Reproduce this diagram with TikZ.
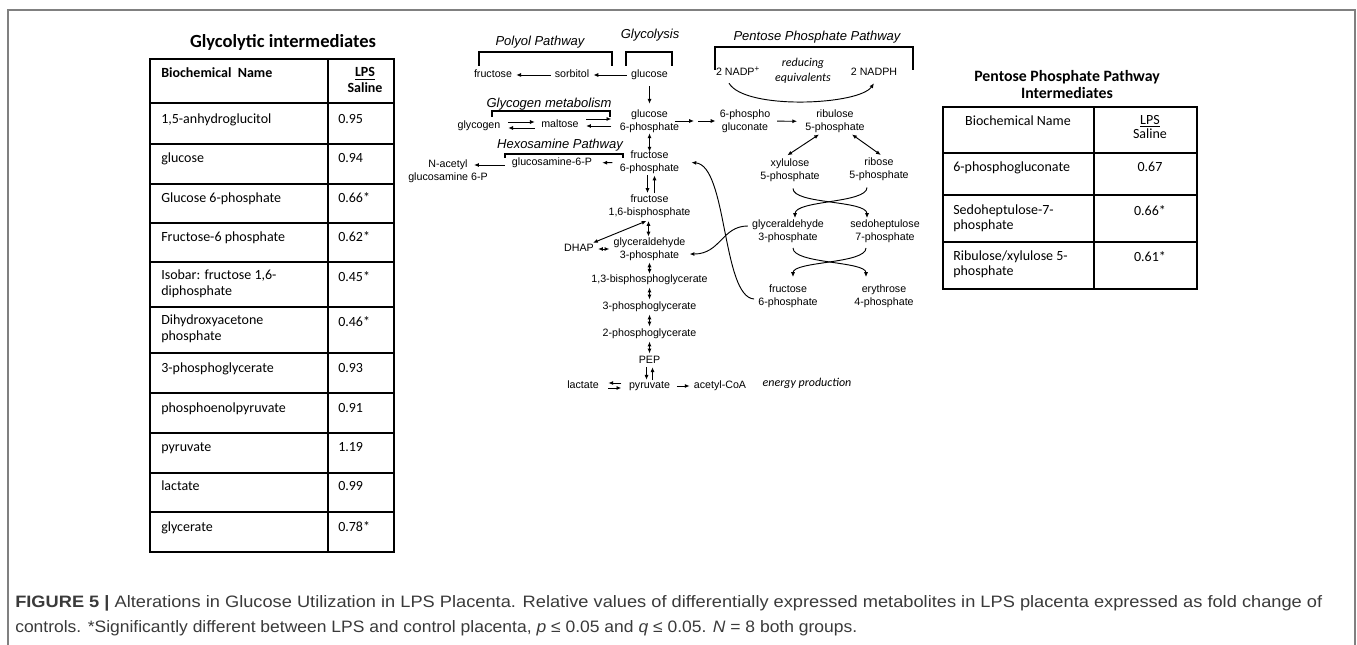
\documentclass[tikz,border=0pt]{standalone}
\usepackage{fontspec}
\usepackage{graphicx}
\setmainfont{Liberation Sans}
\newfontfamily\arialf{Liberation Sans}
\newfontfamily\calf{Carlito}
\usetikzlibrary{arrows.meta,calc}
\definecolor{capgray}{HTML}{3A3A3A}
\definecolor{framegray}{HTML}{808080}

\begin{document}
\begin{tikzpicture}[x=0.75pt,y=-0.75pt,
  met/.style={font=\arialf\fontsize{8}{10.1}\selectfont, align=center, inner xsep=3pt, inner ysep=0.75pt},
  met1/.style={met, text height=5.8pt, text depth=1.65pt},
  pw/.style={font=\arialf\itshape\fontsize{9.75}{11}\selectfont, inner sep=0pt},
  note/.style={font=\calf\itshape\fontsize{9}{11.25}\selectfont, align=center, inner sep=0pt},
  tip/.tip={Latex[length=3.6pt,width=3pt]},
  arr/.style={draw, line width=0.7pt, -tip},
  darr/.style={draw, line width=0.7pt, tip-tip},
  brk/.style={line width=1.3pt},
  tab/.style={line width=1.5pt},
  cellL/.style={font=\calf\fontsize{10.5}{12}\selectfont, anchor=north west, align=left, inner sep=0pt, execute at begin node=\strut},
  cellC/.style={cellL, anchor=north, align=center},
  cellR/.style={font=\calf\fontsize{10.5}{11}\selectfont, anchor=north west, align=left, inner sep=0pt, execute at begin node=\strut},
  cellRC/.style={cellR, anchor=north, align=center},
  capf/.style={font=\arialf\fontsize{12.4}{15}\selectfont, text=capgray, inner sep=0pt, anchor=base west},
]
\useasboundingbox (0,0) rectangle (1357,645);

% outer frame
\draw[framegray, line width=1.5pt] (8,645) -- (8,10) -- (1355,10) -- (1355,645);

% ---------------- left table: glycolytic intermediates ----------------
\node[font=\calf\bfseries\fontsize{13.9}{16}\selectfont, inner sep=0pt] (gtitle) at (283,42) {Glycolytic intermediates};
\draw[tab] (150,59) rectangle (394,552);
\draw[tab] (328,59) -- (328,552);
\foreach \yy in {103,144,184,223,262,307,353,393,433,473,512}
  \draw[tab] (150,\yy) -- (394,\yy);
\node[cellL, font=\calf\bfseries\fontsize{10.5}{12}\selectfont] (ghn) at (161,66) {Biochemical\ \ Name};
\node[cellC, font=\calf\bfseries\fontsize{10.5}{12}\selectfont] (ghv) at (365,67.5) {\underline{LPS}\\Saline};
\node[cellL] (gn1) at (161,112) {1,5-anhydroglucitol};
\node[cellL] (gv1) at (338,112) {0.95};
\node[cellL] (gn2) at (161,151) {glucose};
\node[cellL] (gv2) at (338,151) {0.94};
\node[cellL] (gn3) at (161,191) {Glucose 6-phosphate};
\node[cellL] (gv3) at (338,191) {0.66*};
\node[cellL] (gn4) at (161,230) {Fructose-6 phosphate};
\node[cellL] (gv4) at (338,230) {0.62*};
\node[cellL] (gn5) at (161,270) {Isobar: fructose 1,6-\\diphosphate};
\node[cellL] (gv5) at (338,270) {0.45*};
\node[cellL] (gn6) at (161,315) {Dihydroxyacetone\\phosphate};
\node[cellL] (gv6) at (338,315) {0.46*};
\node[cellL] (gn7) at (161,361) {3-phosphoglycerate};
\node[cellL] (gv7) at (338,361) {0.93};
\node[cellL] (gn8) at (161,401) {phosphoenolpyruvate};
\node[cellL] (gv8) at (338,401) {0.91};
\node[cellL] (gn9) at (161,440) {pyruvate};
\node[cellL] (gv9) at (338,440) {1.19};
\node[cellL] (gn10) at (161,479) {lactate};
\node[cellL] (gv10) at (338,479) {0.99};
\node[cellL] (gn11) at (161,520) {glycerate};
\node[cellL] (gv11) at (338,520) {0.78*};

% ---------------- right table: pentose phosphate intermediates ----------------
\node[font=\calf\bfseries\fontsize{11.85}{12.75}\selectfont, align=center, inner sep=0pt] (ptitle) at (1067,84.5) {Pentose Phosphate Pathway\\Intermediates};
\draw[tab] (943,107) rectangle (1197,289);
\draw[tab] (1094,107) -- (1094,289);
\foreach \yy in {153,195,242}
  \draw[tab] (943,\yy) -- (1197,\yy);
\node[cellRC] (phn) at (1018,114.7) {Biochemical Name};
\node[cellRC] (phv) at (1150,114.7) {\underline{LPS}\\Saline};
\node[cellR] (pn1) at (953,160.7) {6-phosphogluconate};
\node[cellRC] (pv1) at (1150,160.7) {0.67};
\node[cellR] (pn2) at (953,204.7) {Sedoheptulose-7-\\phosphate};
\node[cellRC] (pv2) at (1150,204.7) {0.66*};
\node[cellR] (pn3) at (953,250.7) {Ribulose/xylulose 5-\\phosphate};
\node[cellRC] (pv3) at (1150,250.7) {0.61*};

% ---------------- pathway labels and brackets ----------------
\node[pw] (lpolyol) at (540,42) {Polyol Pathway};
\node[pw] (lglyc) at (650,35) {Glycolysis};
\node[pw] (lglycogen) at (549,104) {Glycogen metabolism};
\node[pw] (lhexo) at (560,145) {Hexosamine Pathway};
\node[pw] (lppp) at (817,37) {Pentose Phosphate Pathway};
\draw[brk] (479,66) |- (612,52) -- (612,66);
\draw[brk] (626,66) |- (672,52) -- (672,66);
\draw[brk] (715,70) |- (913,47) -- (913,70);
\draw[brk] (492,117) |- (610,111) -- (610,117);
\draw[brk] (505,158) |- (623,154) -- (623,158);

% ---------------- metabolites ----------------
\node[met1] (fru) at (493,75) {fructose};
\node[met1] (sorb) at (572,75) {sorbitol};
\node[met1] (glc) at (649.5,75) {glucose};
\node[met] (g6p) at (649.5,121) {glucose\\6-phosphate};
\node[met1] (glycogen) at (479,126) {glycogen};
\node[met1] (maltose) at (560,125) {maltose};
\node[met] (f6p) at (649.5,162.5) {fructose\\6-phosphate};
\node[met1] (gln6p) at (552,163) {glucosamine-6-P};
\node[met] (nacg) at (448,171.5) {N-acetyl\\glucosamine 6-P};
\node[met] (f16bp) at (649.5,206) {fructose\\1,6-bisphosphate};
\node[met1] (dhap) at (579,249) {DHAP};
\node[met] (ga3p) at (649.5,249.5) {glyceraldehyde\\3-phosphate};
\node[met1] (bpg) at (649.5,280) {1,3-bisphosphoglycerate};
\node[met1] (pg3) at (649.5,307) {3-phosphoglycerate};
\node[met1] (pg2) at (649.5,334) {2-phosphoglycerate};
\node[met1] (pep) at (649.5,361) {PEP};
\node[met1] (pyr) at (649.5,386) {pyruvate};
\node[met1] (lac) at (583,386) {lactate};
\node[met1] (acoa) at (720,386) {acetyl-CoA};
\node[note] (energy) at (807,383) {energy production};

\node[met1] (nadp) at (738,73) {2 NADP\textsuperscript{+}};
\node[note] (redeq) at (803,70.5) {reducing\\equivalents};
\node[met1] (nadph) at (874,73) {2 NADPH};
\node[met] (pg6) at (745,121) {6-phospho\\gluconate};
\node[met] (ru5p) at (835,121.5) {ribulose\\5-phosphate};
\node[met] (xu5p) at (790,170.5) {xylulose\\5-phosphate};
\node[met] (r5p) at (879,169.5) {ribose\\5-phosphate};
\node[met] (pga3p) at (788,231) {glyceraldehyde\\3-phosphate};
\node[met] (s7p) at (885,231) {sedoheptulose\\7-phosphate};
\node[met] (pf6p) at (788,296) {fructose\\6-phosphate};
\node[met] (e4p) at (884,296) {erythrose\\4-phosphate};

\coordinate (gbrk) at (696,121);
\coordinate (nacin) at (474,165);

% ---------------- glycolysis and side branches ----------------
\draw[arr] (glc) -- (sorb);
\draw[arr] (sorb) -- (fru);
\draw[arr, shorten <=3.75pt, shorten >=3.2pt] (glc) -- (g6p);

\draw[arr, shorten <=2.7pt, shorten >=1.7pt] ([yshift=3pt]glycogen.east) -- ([yshift=3pt]glycogen.east -| maltose.west);
\draw[arr, shorten <=1.7pt, shorten >=2.7pt] ([yshift=-1.5pt]glycogen.east -| maltose.west) -- ([yshift=-1.5pt]glycogen.east);
\draw[arr, shorten <=2.4pt, shorten >=3.2pt] ([yshift=4.5pt]maltose.east) -- ([yshift=4.5pt]maltose.east -| g6p.west);
\draw[arr, shorten <=3.2pt, shorten >=2.4pt] ([yshift=-0.75pt]maltose.east -| g6p.west) -- ([yshift=-0.75pt]maltose.east);

\draw[arr, shorten <=-6pt, shorten >=1.5pt] (g6p.east) -- (gbrk);
\draw[arr, shorten <=1.5pt] (gbrk) -- (pg6.west);

\draw[darr, shorten <=-0.5pt, shorten >=-1.6pt] (g6p) -- (f6p);
\draw[arr] ([xshift=-1.5pt]f6p.south) -- ([xshift=-1.5pt]f16bp.north);
\draw[arr] ([xshift=3.75pt]f16bp.north) -- ([xshift=3.75pt]f6p.south);
\draw[arr, shorten <=2.4pt, shorten >=4.5pt] (f6p) -- (gln6p);
\draw[arr] ([yshift=-1.5pt,xshift=-2.25pt]gln6p.west) -- (nacin);

\draw[darr, shorten <=1.5pt] ([xshift=-0.75pt]f16bp.south) -- ([xshift=-0.75pt]f16bp.south |- ga3p.north);
\draw[darr] ([xshift=-2.25pt,yshift=-1.5pt]f16bp.south) -- ([xshift=-3.75pt]dhap.north east);
\draw[darr] (dhap.east) -- (dhap.east -| ga3p.west);
\draw[darr] (ga3p) -- (bpg);
\draw[darr, shorten <=1pt, shorten >=1pt] (bpg) -- (pg3);
\draw[darr, shorten <=1pt, shorten >=1pt] (pg3) -- (pg2);
\draw[darr, shorten <=1pt, shorten >=1pt] (pg2) -- (pep);
\draw[arr] ([xshift=-2.25pt]pep.south) -- ([xshift=-2.25pt]pyr.north);
\draw[arr] ([xshift=2.25pt]pyr.north) -- ([xshift=2.25pt]pep.south);
\draw[arr, shorten <=2.6pt, shorten >=4pt] ([yshift=2.25pt]pyr.west) -- ([yshift=2.25pt]pyr.west -| lac.east);
\draw[arr, shorten <=4pt, shorten >=2.6pt] ([yshift=-1.5pt]lac.east) -- ([yshift=-1.5pt]lac.east -| pyr.west);
\draw[arr, shorten <=2pt] (pyr) -- (acoa);

% ---------------- pentose phosphate pathway ----------------
\draw[arr] ([xshift=-6.75pt,yshift=-3pt]nadp.south) .. controls +(16,27) and +(-15,22) .. ([yshift=-3pt]nadph.south);
\draw[arr, shorten <=2pt, shorten >=3pt] (pg6) -- (ru5p);
\draw[darr, shorten >=3pt] ([xshift=-12pt]ru5p.south) -- ([xshift=-4.5pt]xu5p.north);
\draw[darr, shorten >=2pt] ([xshift=12.75pt]ru5p.south) -- ([xshift=3pt]r5p.north);

\draw[arr] ([xshift=2.25pt,yshift=-3.75pt]xu5p.south) .. controls +(0,16) and +(0,-18) .. ([xshift=-13.5pt]s7p.north);
\draw[arr] ([xshift=-9pt,yshift=-3.75pt]r5p.south) .. controls +(0,16) and +(0,-18) .. ([xshift=5.25pt]pga3p.north);
\draw[arr] ([xshift=3.75pt,yshift=-3pt]pga3p.south) .. controls +(0,16) and +(0,-16) .. ([xshift=-13.5pt,yshift=4.5pt]e4p.north);
\draw[arr] ([xshift=-14.25pt,yshift=-3pt]s7p.south) .. controls +(0,16) and +(0,-16) .. ([xshift=3.75pt,yshift=4.5pt]pf6p.north);

\draw[arr] ([yshift=3.75pt]pga3p.west) .. controls +(-26,0) and +(31,0) .. ([yshift=-3.4pt]ga3p.east);
\draw[arr] ([yshift=-2.25pt]pf6p.west) .. controls +(-32,-2) and +(36,3) .. ([xshift=6pt]f6p.east);

% ---------------- caption ----------------
\node[capf] (cap1) at (15,607) {\resizebox{980.25pt}{\height}{\textbf{FIGURE 5 |} Alterations in Glucose Utilization in LPS Placenta. Relative values of differentially expressed metabolites in LPS placenta expressed as fold change of}};
\node[capf] (cap2) at (15,632) {\resizebox{631.5pt}{\height}{controls. *Significantly different between LPS and control placenta, \textit{p} ≤ 0.05 and \textit{q} ≤ 0.05. \textit{N} = 8 both groups.}};
\end{tikzpicture}
\end{document}
